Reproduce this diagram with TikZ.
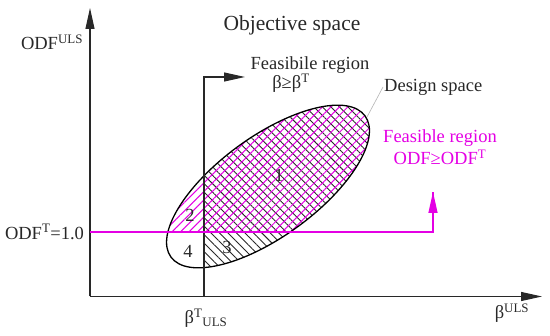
\documentclass[tikz,border=0pt]{standalone}
\usepackage{fontspec}
\setmainfont{Liberation Serif}
\usetikzlibrary{arrows.meta,patterns.meta}
\definecolor{mag}{RGB}{228,0,228}
\definecolor{ink}{RGB}{40,40,40}
\begin{document}
\begin{tikzpicture}[x=1pt,y=1pt,
  lab/.style={font=\fontsize{18.5}{21}\selectfont, text=ink, inner sep=1pt},
  maglab/.style={font=\fontsize{18.5}{21}\selectfont, text=mag, inner sep=1pt},
  titlelab/.style={font=\fontsize{21.5}{24}\selectfont, text=ink, inner sep=1pt},
  axisline/.style={draw=ink, line width=1.1pt, -{Triangle[length=21pt,width=9pt]}},
  magline/.style={draw=mag, line width=1.3pt},
  ellshape/.style={rotate around={36:(268,149.5)}},
  hatchm/.style={pattern={Lines[angle=45,distance=6pt,line width=1pt]}, pattern color=mag},
  hatchk/.style={pattern={Lines[angle=-45,distance=6pt,line width=0.9pt]}, pattern color=ink}]
\useasboundingbox (0,0) rectangle (550,336);
% hatching
\begin{scope}
  \clip[ellshape] (268,149.5) ellipse [x radius=120, y radius=50];
  \fill[hatchk] (204,0) rectangle (550,336);
  \fill[hatchm] (0,104) rectangle (550,336);
\end{scope}
\draw[ellshape, line width=1.3pt, black] (268,149.5) ellipse [x radius=120, y radius=50];
% axes
\coordinate (O) at (90,39.5);
\coordinate (ytip) at (90,328);
\coordinate (xtip) at (542,39.5);
\draw[axisline] (O) -- (ytip);
\draw[axisline] (O) -- (xtip);
% beta threshold
\coordinate (b0) at (204,39.5);
\coordinate (b1) at (204,259);
\coordinate (b2) at (245,259);
\draw[axisline] (b0) -- (b1) -- (b2);
% ODF threshold
\coordinate (m0) at (90,104);
\coordinate (m1) at (433,104);
\coordinate (m2) at (433,144);
\draw[magline, line join=miter] (m0) -- (m1) -- (m2);
\draw[magline, -{Triangle[length=21pt,width=9pt]}] (m1) -- (m2);
% labels
\node[titlelab] (title) at (292,311) {Objective space};
\node[lab] (ylab) at (52,294) {ODF\textsuperscript{ULS}};
\node[lab] (odft) at (44.5,104) {ODF\textsuperscript{T}=1.0};
\node[lab] (bt) at (206,18) {β\textsuperscript{T}\textsubscript{ULS}};
\node[lab] (xlab) at (512,23) {β\textsuperscript{ULS}};
\node[lab] (fr1) at (310,271) {Feasibile region};
\node[lab] (fr2) at (291,253) {β≥β\textsuperscript{T}};
\node[lab, anchor=west] (ds) at (383,249) {Design space};
\coordinate (dsp) at (367,219);
\draw[gray!60, line width=0.6pt] (ds.west) -- (dsp);
\node[maglab] (fm1) at (440,198) {Feasible region};
\node[maglab] (fm2) at (440,179) {ODF≥ODF\textsuperscript{T}};
\node[lab] (r1) at (279,161) {1};
\node[lab] (r2) at (190,121) {2};
\node[lab] (r3) at (227,89) {3};
\node[lab] (r4) at (188,85) {4};
\end{tikzpicture}
\end{document}
